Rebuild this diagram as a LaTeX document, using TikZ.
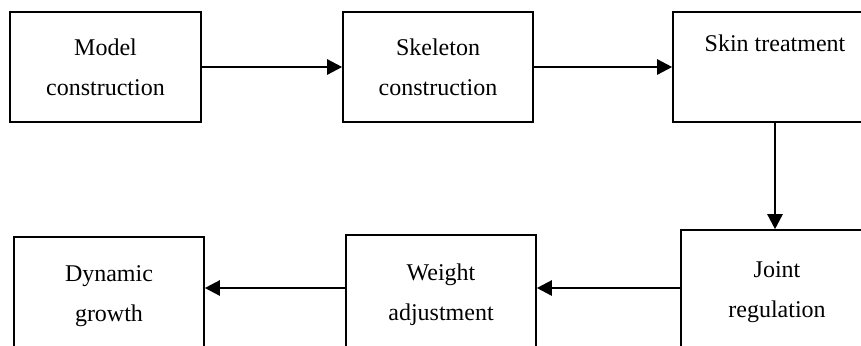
\documentclass[tikz,border=0pt]{standalone}
\usepackage{fontspec}
\setmainfont{Liberation Serif}
\usetikzlibrary{arrows.meta,positioning,calc}

\begin{document}
\begin{tikzpicture}[x=0.5pt,y=-0.5pt]
  \tikzstyle{stage}=[rectangle, draw=black, line width=0.8pt, inner sep=0pt, align=center, font=\fontsize{12}{20}\selectfont]
  \tikzstyle{flow}=[-{Triangle[length=7.5pt,width=7.5pt]}, line width=1.2pt, black]

  \useasboundingbox (0,0) rectangle (861,345);
  \clip (0,0) rectangle (861,345);

  % Fila superior
  \node[stage, minimum width=95.5pt, minimum height=55pt] (model) at (105.5,67) {Model\\construction};
  \node[stage, minimum width=95pt, minimum height=55pt] (skel) at (438,67) {Skeleton\\construction};
  \node[stage, minimum width=102pt, minimum height=55pt] (skin) at (775,67) {\raisebox{-2pt}{Skin treatment}\\ \strut};

  % Fila inferior
  \node[stage, minimum width=96pt, minimum height=62pt] (joint) at (777,292) {Joint\\regulation};
  \node[stage, minimum width=95pt, minimum height=60pt] (weight) at (441,295) {Weight\\adjustment};
  \node[stage, minimum width=95pt, minimum height=59pt] (grow) at (109,296) {Dynamic\\growth};
  \coordinate (lane) at (0,288);

  % Flechas
  \draw[flow] (model) -- (skel);
  \draw[flow] (skel) -- (skin);
  \draw[flow] (skin) -- (skin |- joint.north);
  \draw[flow] (joint.west |- lane) -- (weight.east |- lane);
  \draw[flow] (weight.west |- lane) -- (grow.east |- lane);
\end{tikzpicture}
\end{document}
